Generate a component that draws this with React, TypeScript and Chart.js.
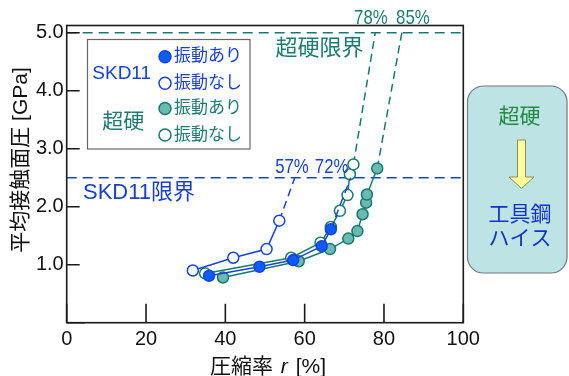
import React, { useEffect, useRef } from 'react';
import { Chart, registerables } from 'chart.js';
Chart.register(...registerables);

// ---- data ----
const xTicks = [0, 20, 40, 60, 80, 100];
const yTicks = [0, 1, 2, 3, 4, 5];

// SKD11 振動あり (last point = extrapolation to limit)
const skdVibX = [35.9, 48.6, 57.1, 64.3, 66.6, 71.6];
const skdVibY = [0.81, 0.965, 1.08, 1.32, 1.61, 2.5];
// SKD11 振動なし
const skdNoVibX = [31.8, 42.0, 50.4, 53.6, 57.5];
const skdNoVibY = [0.9, 1.12, 1.27, 1.76, 2.5];
// 超硬 振動あり
const chVibX = [39.4, 58.5, 66.4, 71.0, 73.3, 74.6, 75.5, 75.7, 78.3, 84.5];
const chVibY = [0.78, 1.06, 1.27, 1.45, 1.58, 1.87, 2.07, 2.21, 2.66, 5.0];
// 超硬 振動なし
const chNoVibX = [34.9, 56.6, 64.0, 66.6, 68.9, 70.8, 71.4, 72.3, 77.8];
const chNoVibY = [0.85, 1.12, 1.38, 1.65, 1.93, 2.2, 2.56, 2.73, 5.0];

const limitSKD = 2.5;
const limitCH = 5.0;
const pctLabelsBlue = ['57%', '72%'];
const pctLabelsTeal = ['78%', '85%'];

// ---- styles ----
const FONT = "'Liberation Sans', 'Noto Sans CJK JP', sans-serif";
const BLUE_FILL = '#0a5cff';
const BLUE_LINE = '#1842d8';
const BLUE_TEXT = '#1a3fcf';
const TEAL_FILL = '#6bbab2';
const TEAL_LINE = '#17786e';
const TEAL_TEXT = '#1e7a70';

function makeDataset(xs: number[], ys: number[], fill: string, line: string) {
  const n = xs.length;
  return {
    data: xs.map((x, i) => ({ x, y: ys[i] })),
    showLine: true,
    borderColor: line,
    borderWidth: 1.5,
    backgroundColor: fill,
    pointBackgroundColor: xs.map((_, i) => (i === n - 1 ? 'rgba(0,0,0,0)' : fill)),
    pointBorderColor: line,
    pointBorderWidth: 1.5,
    pointRadius: xs.map((_, i) => (i === n - 1 ? 0 : 5.5)),
    segment: {
      borderDash: (c: any) => (c.p1DataIndex === n - 1 ? [8, 5] : undefined),
    },
  };
}

function txt(ctx: CanvasRenderingContext2D, s: string, x: number, y: number, color: string, size: number, align: CanvasTextAlign = 'center', scaleX = 1) {
  ctx.save();
  ctx.font = `${size}px ${FONT}`;
  ctx.fillStyle = color;
  ctx.textAlign = align;
  ctx.textBaseline = 'middle';
  ctx.translate(x, y);
  ctx.scale(scaleX, 1);
  ctx.fillText(s, 0, 0);
  ctx.restore();
}

const overlay = {
  id: 'overlay',
  beforeDatasetsDraw(chart: any) {
    const { ctx, chartArea: a, scales } = chart;
    const xs = scales.x, ys = scales.y;
    ctx.save();
    ctx.lineWidth = 1.5;
    ctx.setLineDash([10, 6]);
    ctx.strokeStyle = TEAL_LINE;
    ctx.beginPath();
    ctx.moveTo(a.left, ys.getPixelForValue(limitCH));
    ctx.lineTo(a.right, ys.getPixelForValue(limitCH));
    ctx.stroke();
    ctx.strokeStyle = BLUE_LINE;
    ctx.beginPath();
    ctx.moveTo(a.left, ys.getPixelForValue(limitSKD));
    ctx.lineTo(a.right, ys.getPixelForValue(limitSKD));
    ctx.stroke();
    ctx.setLineDash([]);
    // frame
    ctx.strokeStyle = '#1a1a1a';
    ctx.lineWidth = 1.6;
    ctx.strokeRect(a.left, a.top, a.right - a.left, a.bottom - a.top);
    // inner ticks
    ctx.beginPath();
    yTicks.forEach((v) => {
      const p = ys.getPixelForValue(v);
      ctx.moveTo(a.left, p);
      ctx.lineTo(a.left + (v === 0 ? 18 : 13), p);
    });
    xTicks.forEach((v) => {
      const p = xs.getPixelForValue(v);
      ctx.moveTo(p, a.bottom);
      ctx.lineTo(p, a.bottom - 19);
    });
    ctx.stroke();

    // limit labels
    txt(ctx, '超硬限界', 319.5, 48.5, TEAL_TEXT, 22);
    txt(ctx, 'SKD11限界', 83, 193, BLUE_TEXT, 22, 'left');
    ctx.restore();
  },
  afterDraw(chart: any) {
    const { ctx, scales } = chart;
    const xs = scales.x, ys = scales.y;
    ctx.save();
    // percent labels
    const yb = ys.getPixelForValue(limitSKD) - 11;
    txt(ctx, pctLabelsBlue[0], xs.getPixelForValue(56.8), yb, BLUE_TEXT, 21, 'center', 0.8);
    txt(ctx, pctLabelsBlue[1], xs.getPixelForValue(66.8), yb, BLUE_TEXT, 21, 'center', 0.8);
    const yt = ys.getPixelForValue(limitCH) - 15;
    txt(ctx, pctLabelsTeal[0], xs.getPixelForValue(76.7), yt, TEAL_TEXT, 21, 'center', 0.8);
    txt(ctx, pctLabelsTeal[1], xs.getPixelForValue(87.3), yt, TEAL_TEXT, 21, 'center', 0.8);

    // legend box
    ctx.fillStyle = '#ffffff';
    ctx.fillRect(87.5, 39.5, 162.5, 109.5);
    ctx.strokeStyle = '#666';
    ctx.lineWidth = 1.2;
    ctx.strokeRect(87.5, 39.5, 162.5, 109.5);
    txt(ctx, 'SKD11', 121.7, 73.5, BLUE_TEXT, 19);
    txt(ctx, '超硬', 123.3, 122, TEAL_TEXT, 21);
    const rows = [
      { y: 56.7, fill: BLUE_FILL, line: BLUE_LINE, text: '振動あり', tc: BLUE_TEXT },
      { y: 83.3, fill: '#fff', line: BLUE_LINE, text: '振動なし', tc: BLUE_TEXT },
      { y: 108.5, fill: TEAL_FILL, line: TEAL_LINE, text: '振動あり', tc: TEAL_TEXT },
      { y: 135, fill: '#fff', line: TEAL_LINE, text: '振動なし', tc: TEAL_TEXT },
    ];
    rows.forEach((r) => {
      ctx.beginPath();
      ctx.arc(165, r.y, 6, 0, Math.PI * 2);
      ctx.fillStyle = r.fill;
      ctx.fill();
      ctx.lineWidth = 1.5;
      ctx.strokeStyle = r.line;
      ctx.stroke();
      txt(ctx, r.text, 174, r.y, r.tc, 17, 'left');
    });

    // right box
    const bx = 467.5, by = 86, bw = 99.5, bh = 187, rr = 16;
    ctx.beginPath();
    ctx.moveTo(bx + rr, by);
    ctx.arcTo(bx + bw, by, bx + bw, by + bh, rr);
    ctx.arcTo(bx + bw, by + bh, bx, by + bh, rr);
    ctx.arcTo(bx, by + bh, bx, by, rr);
    ctx.arcTo(bx, by, bx + bw, by, rr);
    ctx.closePath();
    ctx.fillStyle = '#bee3e5';
    ctx.fill();
    ctx.strokeStyle = '#777';
    ctx.lineWidth = 1.2;
    ctx.stroke();
    txt(ctx, '超硬', 519.5, 117, '#1f8a40', 21);
    // arrow
    ctx.beginPath();
    ctx.moveTo(517.5, 140);
    ctx.lineTo(525.5, 140);
    ctx.lineTo(525.5, 177);
    ctx.lineTo(534, 177);
    ctx.lineTo(521.5, 188.5);
    ctx.lineTo(509, 177);
    ctx.lineTo(517.5, 177);
    ctx.closePath();
    ctx.fillStyle = '#ffff99';
    ctx.fill();
    ctx.strokeStyle = '#8a8a60';
    ctx.lineWidth = 1;
    ctx.stroke();
    txt(ctx, '工具鋼', 520, 215, '#1232c8', 21);
    txt(ctx, 'ハイス', 520, 239.5, '#1232c8', 21);

    // axis titles
    ctx.save();
    ctx.translate(21, 160);
    ctx.rotate(-Math.PI / 2);
    txt(ctx, '平均接触面圧 [GPa]', 0, 0, '#111', 21);
    ctx.restore();

    const p1 = '圧縮率 ';
    const p3 = ' [%]';
    ctx.font = `21px ${FONT}`;
    const w1 = ctx.measureText(p1).width;
    const w3 = ctx.measureText(p3).width;
    ctx.font = `italic 21px ${FONT}`;
    const w2 = ctx.measureText('r').width + 4;
    const total = w1 + w2 + w3;
    let sx = 268 - total / 2;
    txt(ctx, p1, sx, 367, '#111', 21, 'left');
    sx += w1;
    ctx.font = `italic 21px ${FONT}`;
    ctx.fillStyle = '#111';
    ctx.textAlign = 'left';
    ctx.textBaseline = 'middle';
    ctx.fillText('r', sx + 2, 367);
    sx += w2;
    txt(ctx, p3, sx, 367, '#111', 21, 'left');
    ctx.restore();
  },
};

export default function App() {
  const ref = useRef<HTMLCanvasElement>(null);
  useEffect(() => {
    if (!ref.current) return;
    const chart = new Chart(ref.current, {
      type: 'scatter',
      data: {
        datasets: [
          makeDataset(skdVibX, skdVibY, BLUE_FILL, BLUE_LINE),
          makeDataset(skdNoVibX, skdNoVibY, '#ffffff', BLUE_LINE),
          makeDataset(chNoVibX, chNoVibY, '#ffffff', TEAL_LINE),
          makeDataset(chVibX, chVibY, TEAL_FILL, TEAL_LINE),
        ] as any,
      },
      options: {
        animation: false,
        responsive: false,
        layout: { padding: { left: 0, top: 25.5, right: 569 - 463.3, bottom: 0 } },
        plugins: { legend: { display: false }, tooltip: { enabled: false } },
        scales: {
          x: {
            type: 'linear',
            min: 0,
            max: 100,
            afterFit: (s: any) => { s.height = 376 - 322.7; },
            afterBuildTicks: (s: any) => { s.ticks = xTicks.map((v) => ({ value: v })); },
            grid: { display: false, drawTicks: false },
            border: { display: false },
            ticks: {
              color: '#111',
              font: { family: FONT, size: 20 },
              padding: 5,
              maxRotation: 0,
              autoSkip: false,
              callback: (v: any) => String(v),
            },
          },
          y: {
            type: 'linear',
            min: 0,
            max: 5.125,
            afterFit: (s: any) => { s.width = 66.7; },
            afterBuildTicks: (s: any) => { s.ticks = yTicks.map((v) => ({ value: v })); },
            grid: { display: false, drawTicks: false },
            border: { display: false },
            ticks: {
              color: '#111',
              font: { family: FONT, size: 20 },
              padding: 3,
              autoSkip: false,
              callback: (v: any) => (v === 0 ? '' : Number(v).toFixed(1)),
            },
          },
        },
      } as any,
      plugins: [overlay],
    });
    return () => chart.destroy();
  }, []);
  return (
    <div style={{ position: 'absolute', left: 0, top: 0, width: 569, height: 376, background: '#fff' }}>
      <canvas ref={ref} width={569} height={376} style={{ display: 'block' }} />
    </div>
  );
}
